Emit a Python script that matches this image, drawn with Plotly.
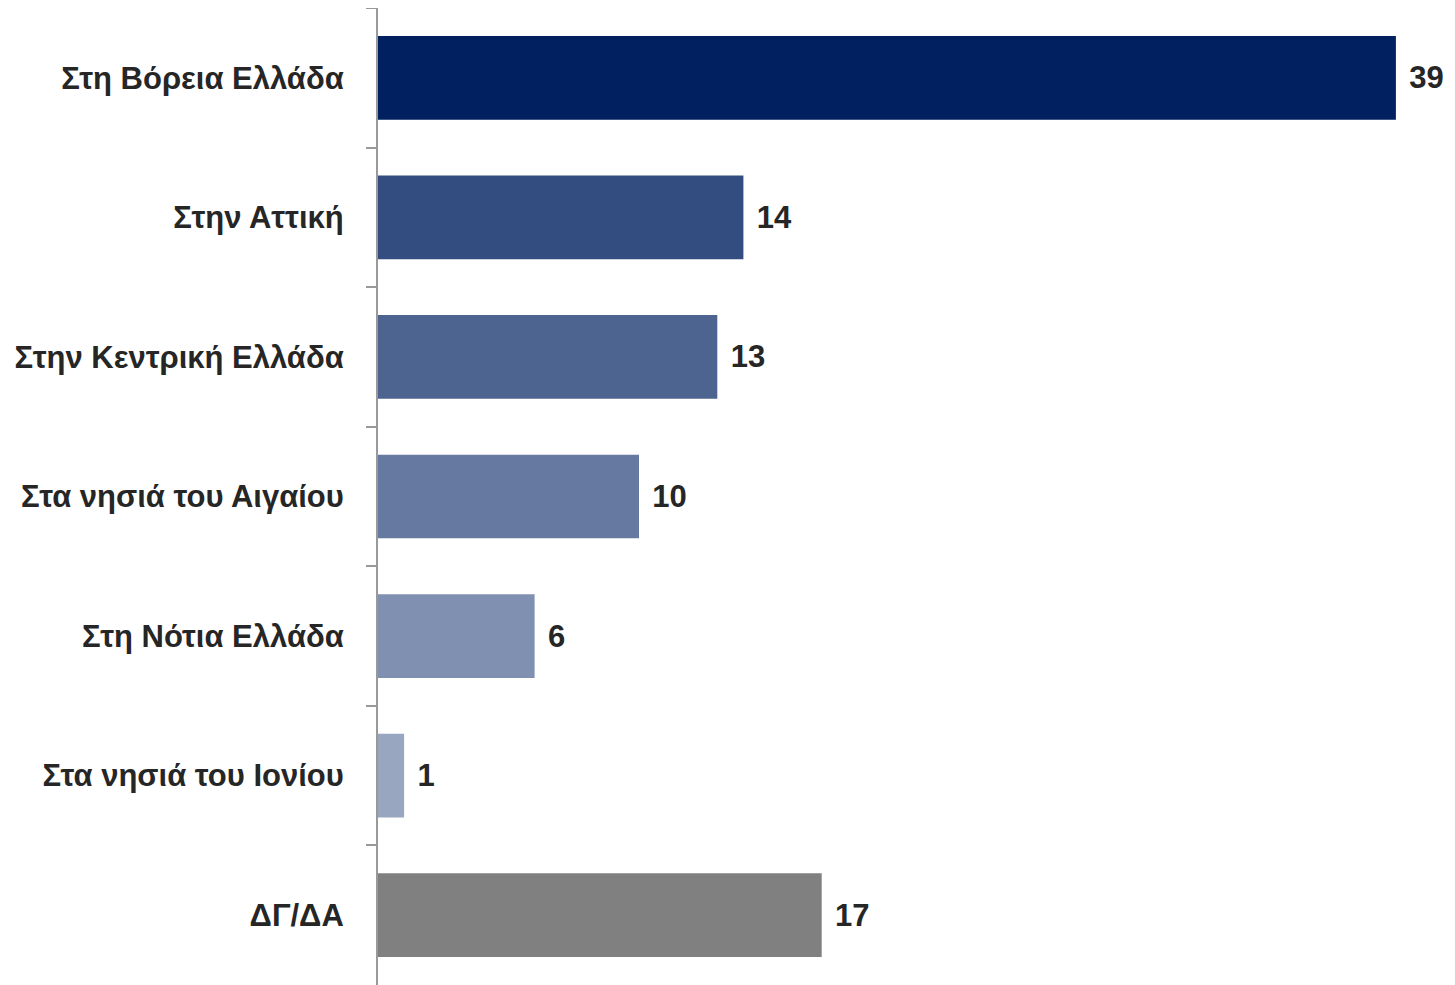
import plotly.graph_objects as go

categories = ["Στη Βόρεια Ελλάδα", "Στην Αττική", "Στην Κεντρική Ελλάδα", "Στα νησιά του Αιγαίου",
              "Στη Νότια Ελλάδα", "Στα νησιά του Ιονίου", "ΔΓ/ΔΑ"]
values = [39, 14, 13, 10, 6, 1, 17]
bar_colors = ["#002060", "#334d80", "#4d6390", "#6679a0", "#8090b0", "#99a6bf", "#808080"]

font_family = "Liberation Sans Narrow, Arial Narrow, Liberation Sans, Arial, sans-serif"

fig = go.Figure()
fig.add_trace(go.Bar(
    y=categories, x=values, orientation="h",
    marker=dict(color=bar_colors, line_width=0),
    text=["\u2004" + str(v) for v in values], textposition="outside",
    textfont=dict(size=31, color="#262626", family=font_family, weight="bold"),
    cliponaxis=False,
))

# page body has an 8px offset, margins compensate for it
fig.update_layout(
    width=1455, height=985,
    margin=dict(l=370, r=41, t=0, b=8),
    plot_bgcolor="white", paper_bgcolor="white",
    bargap=0.4, showlegend=False,
    font=dict(family=font_family, color="#262626"),
)
fig.update_xaxes(range=[0, 40], visible=False)
fig.update_yaxes(
    autorange="reversed", showline=True, linecolor="#999999", linewidth=2,
    ticks="outside", tickson="boundaries", ticklen=10, tickwidth=2, tickcolor="#999999",
    tickfont=dict(size=31, color="#262626", family=font_family, weight="bold"),
    ticklabelstandoff=26, showgrid=False,
)

fig.write_html("out.html")
